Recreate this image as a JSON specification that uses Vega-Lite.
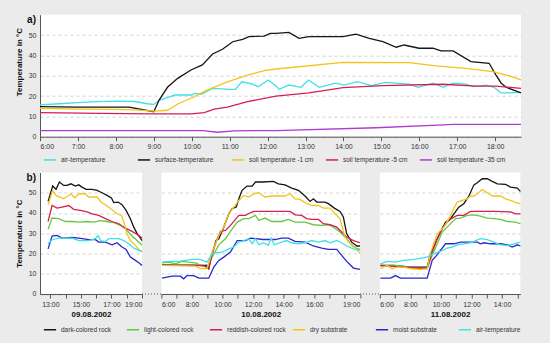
{
"$schema": "https://vega.github.io/schema/vega-lite/v6.json",
"background": "#ebebeb",
"padding": {"left": 15, "top": 14.7, "right": 30, "bottom": 12},
"config": {
  "font": "Liberation Sans, Arial, sans-serif",
  "view": {"fill": "white", "stroke": null},
  "axis": {"labelFontSize": 7, "labelColor": "#333", "domainColor": "#555", "tickColor": "#555", "titleFontSize": 8, "titleFontWeight": "bold", "titleColor": "#111", "gridColor": "#c8c8c8", "gridDash": [3, 3], "gridWidth": 0.8, "labelOverlap": false},
  "legend": {"labelFontSize": 6.5, "labelColor": "#333", "symbolType": "stroke", "symbolStrokeWidth": 1.5, "symbolSize": 150, "direction": "horizontal", "title": null, "labelOffset": 4}
},
"datasets": {
  "a": [
    {"t":6.0,"v":15.6,"s":"air-temperature"},{"t":6.5,"v":16.2,"s":"air-temperature"},{"t":7.0,"v":16.8,"s":"air-temperature"},{"t":7.5,"v":17.2,"s":"air-temperature"},{"t":8.0,"v":17.5,"s":"air-temperature"},{"t":8.5,"v":17.3,"s":"air-temperature"},{"t":8.83,"v":16.2,"s":"air-temperature"},{"t":9.0,"v":15.9,"s":"air-temperature"},{"t":9.15,"v":18.0,"s":"air-temperature"},{"t":9.4,"v":19.5,"s":"air-temperature"},{"t":9.55,"v":20.5,"s":"air-temperature"},{"t":9.8,"v":20.6,"s":"air-temperature"},{"t":10.0,"v":20.5,"s":"air-temperature"},{"t":10.08,"v":21.3,"s":"air-temperature"},{"t":10.25,"v":20.8,"s":"air-temperature"},{"t":10.55,"v":23.8,"s":"air-temperature"},{"t":11.0,"v":23.3,"s":"air-temperature"},{"t":11.15,"v":23.3,"s":"air-temperature"},{"t":11.32,"v":27.0,"s":"air-temperature"},{"t":11.58,"v":26.0,"s":"air-temperature"},{"t":11.75,"v":24.6,"s":"air-temperature"},{"t":12.02,"v":27.9,"s":"air-temperature"},{"t":12.22,"v":24.9,"s":"air-temperature"},{"t":12.3,"v":23.3,"s":"air-temperature"},{"t":12.56,"v":25.4,"s":"air-temperature"},{"t":12.88,"v":24.3,"s":"air-temperature"},{"t":13.08,"v":27.9,"s":"air-temperature"},{"t":13.36,"v":24.3,"s":"air-temperature"},{"t":13.8,"v":26.3,"s":"air-temperature"},{"t":14.01,"v":25.4,"s":"air-temperature"},{"t":14.38,"v":27.1,"s":"air-temperature"},{"t":14.73,"v":25.1,"s":"air-temperature"},{"t":15.12,"v":26.7,"s":"air-temperature"},{"t":15.73,"v":25.9,"s":"air-temperature"},{"t":15.97,"v":24.3,"s":"air-temperature"},{"t":16.36,"v":26.3,"s":"air-temperature"},{"t":16.63,"v":24.3,"s":"air-temperature"},{"t":16.89,"v":26.3,"s":"air-temperature"},{"t":17.23,"v":25.9,"s":"air-temperature"},{"t":17.42,"v":24.6,"s":"air-temperature"},{"t":17.76,"v":25.4,"s":"air-temperature"},{"t":17.97,"v":24.3,"s":"air-temperature"},{"t":18.15,"v":21.6,"s":"air-temperature"},{"t":18.36,"v":21.6,"s":"air-temperature"},{"t":18.68,"v":21.8,"s":"air-temperature"},
    {"t":6.0,"v":14.8,"s":"surface-temperature"},{"t":7.0,"v":14.5,"s":"surface-temperature"},{"t":8.0,"v":14.5,"s":"surface-temperature"},{"t":8.35,"v":14.5,"s":"surface-temperature"},{"t":9.0,"v":12.3,"s":"surface-temperature"},{"t":9.14,"v":18.0,"s":"surface-temperature"},{"t":9.36,"v":24.3,"s":"surface-temperature"},{"t":9.63,"v":28.7,"s":"surface-temperature"},{"t":9.98,"v":32.8,"s":"surface-temperature"},{"t":10.28,"v":35.3,"s":"surface-temperature"},{"t":10.55,"v":40.7,"s":"surface-temperature"},{"t":10.81,"v":43.0,"s":"surface-temperature"},{"t":11.08,"v":46.7,"s":"surface-temperature"},{"t":11.34,"v":47.9,"s":"surface-temperature"},{"t":11.51,"v":49.2,"s":"surface-temperature"},{"t":11.91,"v":49.5,"s":"surface-temperature"},{"t":12.07,"v":50.8,"s":"surface-temperature"},{"t":12.22,"v":50.8,"s":"surface-temperature"},{"t":12.56,"v":51.3,"s":"surface-temperature"},{"t":12.83,"v":48.4,"s":"surface-temperature"},{"t":13.09,"v":49.2,"s":"surface-temperature"},{"t":13.99,"v":49.2,"s":"surface-temperature"},{"t":14.33,"v":50.4,"s":"surface-temperature"},{"t":14.68,"v":48.4,"s":"surface-temperature"},{"t":15.04,"v":46.7,"s":"surface-temperature"},{"t":15.39,"v":44.0,"s":"surface-temperature"},{"t":15.6,"v":45.1,"s":"surface-temperature"},{"t":15.99,"v":43.5,"s":"surface-temperature"},{"t":16.36,"v":43.5,"s":"surface-temperature"},{"t":16.57,"v":42.2,"s":"surface-temperature"},{"t":16.89,"v":42.2,"s":"surface-temperature"},{"t":17.36,"v":36.9,"s":"surface-temperature"},{"t":17.84,"v":36.1,"s":"surface-temperature"},{"t":18.02,"v":30.3,"s":"surface-temperature"},{"t":18.16,"v":26.3,"s":"surface-temperature"},{"t":18.29,"v":24.3,"s":"surface-temperature"},{"t":18.68,"v":21.6,"s":"surface-temperature"},
    {"t":6.0,"v":14.0,"s":"soil temperature -1 cm"},{"t":7.0,"v":13.6,"s":"soil temperature -1 cm"},{"t":8.0,"v":13.4,"s":"soil temperature -1 cm"},{"t":8.5,"v":13.2,"s":"soil temperature -1 cm"},{"t":9.0,"v":12.6,"s":"soil temperature -1 cm"},{"t":9.36,"v":13.0,"s":"soil temperature -1 cm"},{"t":9.63,"v":16.1,"s":"soil temperature -1 cm"},{"t":9.98,"v":18.9,"s":"soil temperature -1 cm"},{"t":10.42,"v":23.0,"s":"soil temperature -1 cm"},{"t":10.94,"v":27.0,"s":"soil temperature -1 cm"},{"t":11.47,"v":30.3,"s":"soil temperature -1 cm"},{"t":11.91,"v":32.5,"s":"soil temperature -1 cm"},{"t":12.22,"v":33.3,"s":"soil temperature -1 cm"},{"t":12.56,"v":33.9,"s":"soil temperature -1 cm"},{"t":13.99,"v":36.6,"s":"soil temperature -1 cm"},{"t":15.73,"v":36.4,"s":"soil temperature -1 cm"},{"t":16.44,"v":34.8,"s":"soil temperature -1 cm"},{"t":17.23,"v":33.6,"s":"soil temperature -1 cm"},{"t":17.94,"v":32.0,"s":"soil temperature -1 cm"},{"t":18.37,"v":29.9,"s":"soil temperature -1 cm"},{"t":18.68,"v":27.9,"s":"soil temperature -1 cm"},
    {"t":6.0,"v":11.8,"s":"soil temperature -5 cm"},{"t":7.6,"v":11.5,"s":"soil temperature -5 cm"},{"t":9.0,"v":11.2,"s":"soil temperature -5 cm"},{"t":9.98,"v":11.2,"s":"soil temperature -5 cm"},{"t":10.33,"v":11.8,"s":"soil temperature -5 cm"},{"t":10.59,"v":13.6,"s":"soil temperature -5 cm"},{"t":10.94,"v":14.5,"s":"soil temperature -5 cm"},{"t":11.47,"v":17.2,"s":"soil temperature -5 cm"},{"t":12.22,"v":20.0,"s":"soil temperature -5 cm"},{"t":13.09,"v":21.6,"s":"soil temperature -5 cm"},{"t":13.99,"v":24.1,"s":"soil temperature -5 cm"},{"t":15.04,"v":25.1,"s":"soil temperature -5 cm"},{"t":16.63,"v":25.8,"s":"soil temperature -5 cm"},{"t":17.5,"v":24.9,"s":"soil temperature -5 cm"},{"t":18.02,"v":24.9,"s":"soil temperature -5 cm"},{"t":18.68,"v":23.8,"s":"soil temperature -5 cm"},
    {"t":6.0,"v":3.0,"s":"soil temperature -35 cm"},{"t":10.3,"v":3.0,"s":"soil temperature -35 cm"},{"t":10.68,"v":2.2,"s":"soil temperature -35 cm"},{"t":11.12,"v":2.9,"s":"soil temperature -35 cm"},{"t":12.22,"v":3.0,"s":"soil temperature -35 cm"},{"t":14.86,"v":4.4,"s":"soil temperature -35 cm"},{"t":16.63,"v":5.8,"s":"soil temperature -35 cm"},{"t":16.89,"v":6.1,"s":"soil temperature -35 cm"},{"t":18.68,"v":6.1,"s":"soil temperature -35 cm"}
  ],
  "b1": [
    {"t":12.85,"v":45.7,"s":"dark-colored rock"},{"t":13.15,"v":53.3,"s":"dark-colored rock"},{"t":13.37,"v":51.7,"s":"dark-colored rock"},{"t":13.59,"v":55.3,"s":"dark-colored rock"},{"t":13.87,"v":53.6,"s":"dark-colored rock"},{"t":14.09,"v":53.6,"s":"dark-colored rock"},{"t":14.35,"v":54.4,"s":"dark-colored rock"},{"t":14.64,"v":53.3,"s":"dark-colored rock"},{"t":14.86,"v":53.9,"s":"dark-colored rock"},{"t":15.07,"v":52.8,"s":"dark-colored rock"},{"t":15.34,"v":51.7,"s":"dark-colored rock"},{"t":15.73,"v":51.7,"s":"dark-colored rock"},{"t":16.06,"v":51.2,"s":"dark-colored rock"},{"t":16.38,"v":50.0,"s":"dark-colored rock"},{"t":16.71,"v":48.7,"s":"dark-colored rock"},{"t":17.0,"v":47.4,"s":"dark-colored rock"},{"t":17.15,"v":45.1,"s":"dark-colored rock"},{"t":17.43,"v":45.4,"s":"dark-colored rock"},{"t":17.69,"v":44.1,"s":"dark-colored rock"},{"t":17.96,"v":41.3,"s":"dark-colored rock"},{"t":18.24,"v":37.2,"s":"dark-colored rock"},{"t":18.46,"v":33.0,"s":"dark-colored rock"},{"t":18.68,"v":29.8,"s":"dark-colored rock"},{"t":18.9,"v":27.6,"s":"dark-colored rock"},{"t":19.0,"v":26.4,"s":"dark-colored rock"},
    {"t":12.85,"v":31.9,"s":"light-colored rock"},{"t":13.11,"v":37.5,"s":"light-colored rock"},{"t":13.55,"v":37.2,"s":"light-colored rock"},{"t":13.98,"v":35.8,"s":"light-colored rock"},{"t":14.42,"v":35.8,"s":"light-colored rock"},{"t":14.97,"v":35.5,"s":"light-colored rock"},{"t":15.4,"v":35.8,"s":"light-colored rock"},{"t":15.84,"v":35.5,"s":"light-colored rock"},{"t":16.28,"v":36.2,"s":"light-colored rock"},{"t":16.71,"v":35.8,"s":"light-colored rock"},{"t":17.15,"v":35.2,"s":"light-colored rock"},{"t":17.59,"v":33.9,"s":"light-colored rock"},{"t":17.96,"v":31.9,"s":"light-colored rock"},{"t":18.31,"v":28.9,"s":"light-colored rock"},{"t":18.68,"v":26.4,"s":"light-colored rock"},{"t":19.0,"v":24.0,"s":"light-colored rock"},
    {"t":12.85,"v":35.8,"s":"reddish-colored rock"},{"t":13.11,"v":43.7,"s":"reddish-colored rock"},{"t":13.44,"v":42.4,"s":"reddish-colored rock"},{"t":13.76,"v":42.9,"s":"reddish-colored rock"},{"t":14.2,"v":43.7,"s":"reddish-colored rock"},{"t":14.53,"v":41.8,"s":"reddish-colored rock"},{"t":14.97,"v":41.3,"s":"reddish-colored rock"},{"t":15.4,"v":40.5,"s":"reddish-colored rock"},{"t":15.73,"v":39.6,"s":"reddish-colored rock"},{"t":16.17,"v":38.8,"s":"reddish-colored rock"},{"t":16.6,"v":37.2,"s":"reddish-colored rock"},{"t":17.04,"v":35.8,"s":"reddish-colored rock"},{"t":17.48,"v":34.7,"s":"reddish-colored rock"},{"t":17.91,"v":32.5,"s":"reddish-colored rock"},{"t":18.35,"v":30.9,"s":"reddish-colored rock"},{"t":18.79,"v":28.9,"s":"reddish-colored rock"},{"t":19.0,"v":27.6,"s":"reddish-colored rock"},
    {"t":12.85,"v":44.1,"s":"dry substrate"},{"t":13.15,"v":51.2,"s":"dry substrate"},{"t":13.37,"v":48.7,"s":"dry substrate"},{"t":13.87,"v":47.0,"s":"dry substrate"},{"t":14.35,"v":49.5,"s":"dry substrate"},{"t":14.59,"v":47.4,"s":"dry substrate"},{"t":14.86,"v":49.5,"s":"dry substrate"},{"t":15.29,"v":49.5,"s":"dry substrate"},{"t":15.51,"v":47.9,"s":"dry substrate"},{"t":16.06,"v":47.9,"s":"dry substrate"},{"t":16.28,"v":45.7,"s":"dry substrate"},{"t":16.6,"v":44.1,"s":"dry substrate"},{"t":17.0,"v":41.8,"s":"dry substrate"},{"t":17.37,"v":39.6,"s":"dry substrate"},{"t":17.65,"v":38.8,"s":"dry substrate"},{"t":17.8,"v":35.8,"s":"dry substrate"},{"t":18.02,"v":29.7,"s":"dry substrate"},{"t":18.24,"v":26.4,"s":"dry substrate"},{"t":18.57,"v":24.0,"s":"dry substrate"},{"t":18.79,"v":22.0,"s":"dry substrate"},{"t":19.0,"v":21.0,"s":"dry substrate"},
    {"t":12.85,"v":22.3,"s":"moist substrate"},{"t":13.11,"v":28.6,"s":"moist substrate"},{"t":13.44,"v":28.9,"s":"moist substrate"},{"t":13.76,"v":27.6,"s":"moist substrate"},{"t":14.42,"v":27.9,"s":"moist substrate"},{"t":14.86,"v":27.6,"s":"moist substrate"},{"t":15.51,"v":26.8,"s":"moist substrate"},{"t":15.95,"v":26.8,"s":"moist substrate"},{"t":16.17,"v":25.6,"s":"moist substrate"},{"t":16.6,"v":25.6,"s":"moist substrate"},{"t":17.04,"v":24.3,"s":"moist substrate"},{"t":17.37,"v":25.3,"s":"moist substrate"},{"t":17.69,"v":23.2,"s":"moist substrate"},{"t":17.96,"v":22.0,"s":"moist substrate"},{"t":18.24,"v":18.2,"s":"moist substrate"},{"t":18.57,"v":16.6,"s":"moist substrate"},{"t":18.79,"v":15.4,"s":"moist substrate"},{"t":19.0,"v":14.1,"s":"moist substrate"},
    {"t":12.85,"v":24.8,"s":"air-temperature"},{"t":13.11,"v":26.8,"s":"air-temperature"},{"t":13.55,"v":27.6,"s":"air-temperature"},{"t":14.42,"v":27.6,"s":"air-temperature"},{"t":14.86,"v":26.4,"s":"air-temperature"},{"t":15.51,"v":26.4,"s":"air-temperature"},{"t":15.95,"v":27.3,"s":"air-temperature"},{"t":16.12,"v":28.9,"s":"air-temperature"},{"t":16.3,"v":26.4,"s":"air-temperature"},{"t":16.6,"v":25.9,"s":"air-temperature"},{"t":16.82,"v":27.3,"s":"air-temperature"},{"t":17.48,"v":27.3,"s":"air-temperature"},{"t":17.8,"v":26.4,"s":"air-temperature"},{"t":18.13,"v":24.8,"s":"air-temperature"},{"t":18.46,"v":22.7,"s":"air-temperature"},{"t":18.79,"v":21.5,"s":"air-temperature"},{"t":19.0,"v":21.0,"s":"air-temperature"}
  ],
  "b2": [
    {"t":6.04,"v":14.4,"s":"dark-colored rock"},{"t":7.0,"v":14.3,"s":"dark-colored rock"},{"t":8.0,"v":14.3,"s":"dark-colored rock"},{"t":8.99,"v":14.1,"s":"dark-colored rock"},{"t":9.1,"v":12.5,"s":"dark-colored rock"},{"t":9.32,"v":19.9,"s":"dark-colored rock"},{"t":9.58,"v":26.4,"s":"dark-colored rock"},{"t":9.76,"v":27.3,"s":"dark-colored rock"},{"t":10.08,"v":33.0,"s":"dark-colored rock"},{"t":10.41,"v":39.6,"s":"dark-colored rock"},{"t":10.63,"v":42.1,"s":"dark-colored rock"},{"t":10.9,"v":42.9,"s":"dark-colored rock"},{"t":11.07,"v":47.0,"s":"dark-colored rock"},{"t":11.28,"v":51.2,"s":"dark-colored rock"},{"t":11.61,"v":53.3,"s":"dark-colored rock"},{"t":11.94,"v":53.3,"s":"dark-colored rock"},{"t":12.16,"v":55.3,"s":"dark-colored rock"},{"t":12.64,"v":55.3,"s":"dark-colored rock"},{"t":13.33,"v":55.6,"s":"dark-colored rock"},{"t":13.66,"v":54.4,"s":"dark-colored rock"},{"t":14.09,"v":53.9,"s":"dark-colored rock"},{"t":14.53,"v":52.3,"s":"dark-colored rock"},{"t":14.97,"v":51.2,"s":"dark-colored rock"},{"t":15.4,"v":48.4,"s":"dark-colored rock"},{"t":15.73,"v":45.7,"s":"dark-colored rock"},{"t":15.95,"v":47.0,"s":"dark-colored rock"},{"t":16.17,"v":45.4,"s":"dark-colored rock"},{"t":16.71,"v":45.4,"s":"dark-colored rock"},{"t":16.93,"v":44.6,"s":"dark-colored rock"},{"t":17.32,"v":42.4,"s":"dark-colored rock"},{"t":17.69,"v":40.8,"s":"dark-colored rock"},{"t":17.91,"v":38.0,"s":"dark-colored rock"},{"t":18.13,"v":29.7,"s":"dark-colored rock"},{"t":18.46,"v":25.6,"s":"dark-colored rock"},{"t":18.79,"v":23.7,"s":"dark-colored rock"},{"t":19.0,"v":23.7,"s":"dark-colored rock"},
    {"t":6.04,"v":15.4,"s":"light-colored rock"},{"t":6.48,"v":15.7,"s":"light-colored rock"},{"t":6.92,"v":14.9,"s":"light-colored rock"},{"t":7.35,"v":16.1,"s":"light-colored rock"},{"t":7.79,"v":15.7,"s":"light-colored rock"},{"t":8.23,"v":15.4,"s":"light-colored rock"},{"t":8.66,"v":13.8,"s":"light-colored rock"},{"t":8.99,"v":13.3,"s":"light-colored rock"},{"t":9.32,"v":18.2,"s":"light-colored rock"},{"t":9.76,"v":24.3,"s":"light-colored rock"},{"t":10.19,"v":27.3,"s":"light-colored rock"},{"t":10.52,"v":30.9,"s":"light-colored rock"},{"t":10.96,"v":35.5,"s":"light-colored rock"},{"t":11.39,"v":37.2,"s":"light-colored rock"},{"t":11.72,"v":37.2,"s":"light-colored rock"},{"t":12.16,"v":38.8,"s":"light-colored rock"},{"t":12.38,"v":36.3,"s":"light-colored rock"},{"t":12.78,"v":37.5,"s":"light-colored rock"},{"t":13.22,"v":35.8,"s":"light-colored rock"},{"t":13.87,"v":35.8,"s":"light-colored rock"},{"t":14.31,"v":36.8,"s":"light-colored rock"},{"t":14.75,"v":35.5,"s":"light-colored rock"},{"t":15.4,"v":35.5,"s":"light-colored rock"},{"t":15.95,"v":34.2,"s":"light-colored rock"},{"t":16.5,"v":33.9,"s":"light-colored rock"},{"t":16.93,"v":34.2,"s":"light-colored rock"},{"t":17.26,"v":33.0,"s":"light-colored rock"},{"t":17.69,"v":30.6,"s":"light-colored rock"},{"t":18.13,"v":27.3,"s":"light-colored rock"},{"t":18.57,"v":23.2,"s":"light-colored rock"},{"t":19.0,"v":22.0,"s":"light-colored rock"},
    {"t":6.04,"v":14.1,"s":"reddish-colored rock"},{"t":8.8,"v":14.0,"s":"reddish-colored rock"},{"t":9.1,"v":12.5,"s":"reddish-colored rock"},{"t":9.32,"v":19.9,"s":"reddish-colored rock"},{"t":9.65,"v":27.3,"s":"reddish-colored rock"},{"t":9.87,"v":30.9,"s":"reddish-colored rock"},{"t":10.19,"v":31.4,"s":"reddish-colored rock"},{"t":10.52,"v":33.9,"s":"reddish-colored rock"},{"t":11.07,"v":38.8,"s":"reddish-colored rock"},{"t":11.5,"v":38.8,"s":"reddish-colored rock"},{"t":11.83,"v":40.1,"s":"reddish-colored rock"},{"t":12.05,"v":40.8,"s":"reddish-colored rock"},{"t":14.42,"v":40.8,"s":"reddish-colored rock"},{"t":14.75,"v":39.1,"s":"reddish-colored rock"},{"t":15.18,"v":38.8,"s":"reddish-colored rock"},{"t":15.51,"v":37.2,"s":"reddish-colored rock"},{"t":15.84,"v":36.8,"s":"reddish-colored rock"},{"t":16.28,"v":36.8,"s":"reddish-colored rock"},{"t":16.6,"v":34.7,"s":"reddish-colored rock"},{"t":17.04,"v":34.2,"s":"reddish-colored rock"},{"t":17.48,"v":33.0,"s":"reddish-colored rock"},{"t":17.8,"v":30.6,"s":"reddish-colored rock"},{"t":18.13,"v":28.1,"s":"reddish-colored rock"},{"t":18.57,"v":26.4,"s":"reddish-colored rock"},{"t":19.0,"v":25.3,"s":"reddish-colored rock"},
    {"t":6.04,"v":14.1,"s":"dry substrate"},{"t":7.0,"v":14.0,"s":"dry substrate"},{"t":8.23,"v":13.8,"s":"dry substrate"},{"t":8.55,"v":12.5,"s":"dry substrate"},{"t":8.99,"v":12.5,"s":"dry substrate"},{"t":9.32,"v":20.7,"s":"dry substrate"},{"t":9.76,"v":28.9,"s":"dry substrate"},{"t":10.08,"v":33.0,"s":"dry substrate"},{"t":10.41,"v":39.6,"s":"dry substrate"},{"t":10.74,"v":42.9,"s":"dry substrate"},{"t":11.07,"v":46.2,"s":"dry substrate"},{"t":11.39,"v":48.7,"s":"dry substrate"},{"t":11.72,"v":47.9,"s":"dry substrate"},{"t":12.05,"v":49.5,"s":"dry substrate"},{"t":12.34,"v":50.0,"s":"dry substrate"},{"t":12.78,"v":47.9,"s":"dry substrate"},{"t":13.22,"v":48.4,"s":"dry substrate"},{"t":14.09,"v":48.4,"s":"dry substrate"},{"t":14.42,"v":49.5,"s":"dry substrate"},{"t":14.75,"v":47.0,"s":"dry substrate"},{"t":15.07,"v":46.7,"s":"dry substrate"},{"t":15.4,"v":45.1,"s":"dry substrate"},{"t":15.84,"v":43.7,"s":"dry substrate"},{"t":16.28,"v":43.7,"s":"dry substrate"},{"t":16.6,"v":42.4,"s":"dry substrate"},{"t":17.04,"v":42.4,"s":"dry substrate"},{"t":17.37,"v":39.6,"s":"dry substrate"},{"t":17.69,"v":37.2,"s":"dry substrate"},{"t":17.98,"v":28.9,"s":"dry substrate"},{"t":18.24,"v":25.6,"s":"dry substrate"},{"t":18.68,"v":23.1,"s":"dry substrate"},{"t":19.0,"v":19.9,"s":"dry substrate"},
    {"t":6.04,"v":7.8,"s":"moist substrate"},{"t":6.7,"v":8.8,"s":"moist substrate"},{"t":7.24,"v":8.8,"s":"moist substrate"},{"t":7.46,"v":7.5,"s":"moist substrate"},{"t":7.68,"v":9.1,"s":"moist substrate"},{"t":8.12,"v":9.1,"s":"moist substrate"},{"t":8.45,"v":7.8,"s":"moist substrate"},{"t":9.1,"v":7.8,"s":"moist substrate"},{"t":9.43,"v":13.3,"s":"moist substrate"},{"t":9.76,"v":16.6,"s":"moist substrate"},{"t":10.08,"v":18.2,"s":"moist substrate"},{"t":10.52,"v":20.7,"s":"moist substrate"},{"t":10.96,"v":26.4,"s":"moist substrate"},{"t":11.5,"v":26.4,"s":"moist substrate"},{"t":11.83,"v":27.6,"s":"moist substrate"},{"t":12.16,"v":27.3,"s":"moist substrate"},{"t":12.64,"v":26.9,"s":"moist substrate"},{"t":13.44,"v":26.9,"s":"moist substrate"},{"t":13.87,"v":27.6,"s":"moist substrate"},{"t":14.31,"v":27.6,"s":"moist substrate"},{"t":14.75,"v":26.0,"s":"moist substrate"},{"t":15.4,"v":25.6,"s":"moist substrate"},{"t":15.95,"v":23.7,"s":"moist substrate"},{"t":16.5,"v":22.7,"s":"moist substrate"},{"t":16.93,"v":22.0,"s":"moist substrate"},{"t":17.48,"v":22.0,"s":"moist substrate"},{"t":17.8,"v":19.1,"s":"moist substrate"},{"t":18.13,"v":16.1,"s":"moist substrate"},{"t":18.57,"v":12.8,"s":"moist substrate"},{"t":19.0,"v":12.1,"s":"moist substrate"},
    {"t":6.04,"v":15.7,"s":"air-temperature"},{"t":6.48,"v":16.1,"s":"air-temperature"},{"t":7.14,"v":16.1,"s":"air-temperature"},{"t":7.57,"v":16.6,"s":"air-temperature"},{"t":8.0,"v":17.1,"s":"air-temperature"},{"t":8.55,"v":17.1,"s":"air-temperature"},{"t":8.99,"v":15.7,"s":"air-temperature"},{"t":9.32,"v":19.9,"s":"air-temperature"},{"t":9.65,"v":20.4,"s":"air-temperature"},{"t":9.87,"v":20.4,"s":"air-temperature"},{"t":10.08,"v":21.0,"s":"air-temperature"},{"t":10.41,"v":22.3,"s":"air-temperature"},{"t":10.74,"v":23.2,"s":"air-temperature"},{"t":11.07,"v":25.6,"s":"air-temperature"},{"t":11.39,"v":26.4,"s":"air-temperature"},{"t":11.72,"v":27.3,"s":"air-temperature"},{"t":11.94,"v":24.8,"s":"air-temperature"},{"t":12.16,"v":27.3,"s":"air-temperature"},{"t":12.38,"v":24.3,"s":"air-temperature"},{"t":12.67,"v":25.3,"s":"air-temperature"},{"t":13.0,"v":24.0,"s":"air-temperature"},{"t":13.18,"v":27.6,"s":"air-temperature"},{"t":13.39,"v":24.3,"s":"air-temperature"},{"t":13.87,"v":25.6,"s":"air-temperature"},{"t":14.2,"v":26.4,"s":"air-temperature"},{"t":14.53,"v":25.3,"s":"air-temperature"},{"t":14.97,"v":24.8,"s":"air-temperature"},{"t":15.4,"v":25.3,"s":"air-temperature"},{"t":15.84,"v":26.4,"s":"air-temperature"},{"t":16.28,"v":25.6,"s":"air-temperature"},{"t":16.71,"v":26.4,"s":"air-temperature"},{"t":17.04,"v":25.3,"s":"air-temperature"},{"t":17.48,"v":26.4,"s":"air-temperature"},{"t":17.8,"v":25.3,"s":"air-temperature"},{"t":18.13,"v":23.7,"s":"air-temperature"},{"t":18.57,"v":22.3,"s":"air-temperature"},{"t":19.0,"v":21.5,"s":"air-temperature"}
  ],
  "b3": [
    {"t":6.04,"v":14.1,"s":"dark-colored rock"},{"t":6.92,"v":14.1,"s":"dark-colored rock"},{"t":8.0,"v":13.3,"s":"dark-colored rock"},{"t":9.1,"v":13.3,"s":"dark-colored rock"},{"t":9.32,"v":19.9,"s":"dark-colored rock"},{"t":9.65,"v":25.6,"s":"dark-colored rock"},{"t":9.97,"v":30.6,"s":"dark-colored rock"},{"t":10.3,"v":35.5,"s":"dark-colored rock"},{"t":10.63,"v":37.2,"s":"dark-colored rock"},{"t":10.85,"v":39.6,"s":"dark-colored rock"},{"t":11.17,"v":42.9,"s":"dark-colored rock"},{"t":11.5,"v":44.6,"s":"dark-colored rock"},{"t":11.83,"v":48.4,"s":"dark-colored rock"},{"t":12.16,"v":53.9,"s":"dark-colored rock"},{"t":12.38,"v":54.9,"s":"dark-colored rock"},{"t":12.7,"v":56.9,"s":"dark-colored rock"},{"t":13.03,"v":56.9,"s":"dark-colored rock"},{"t":13.36,"v":55.6,"s":"dark-colored rock"},{"t":13.69,"v":54.4,"s":"dark-colored rock"},{"t":14.23,"v":54.1,"s":"dark-colored rock"},{"t":14.56,"v":52.8,"s":"dark-colored rock"},{"t":15.0,"v":52.3,"s":"dark-colored rock"},{"t":15.2,"v":50.7,"s":"dark-colored rock"},
    {"t":6.04,"v":13.8,"s":"light-colored rock"},{"t":6.92,"v":14.1,"s":"light-colored rock"},{"t":7.57,"v":13.8,"s":"light-colored rock"},{"t":8.23,"v":12.5,"s":"light-colored rock"},{"t":9.1,"v":12.8,"s":"light-colored rock"},{"t":9.43,"v":19.1,"s":"light-colored rock"},{"t":9.76,"v":24.8,"s":"light-colored rock"},{"t":10.08,"v":30.6,"s":"light-colored rock"},{"t":10.52,"v":33.9,"s":"light-colored rock"},{"t":10.96,"v":37.2,"s":"light-colored rock"},{"t":11.28,"v":37.5,"s":"light-colored rock"},{"t":11.72,"v":38.8,"s":"light-colored rock"},{"t":12.16,"v":39.1,"s":"light-colored rock"},{"t":12.59,"v":38.4,"s":"light-colored rock"},{"t":13.03,"v":37.5,"s":"light-colored rock"},{"t":13.47,"v":37.2,"s":"light-colored rock"},{"t":13.9,"v":36.8,"s":"light-colored rock"},{"t":14.34,"v":35.8,"s":"light-colored rock"},{"t":14.89,"v":35.5,"s":"light-colored rock"},{"t":15.2,"v":34.7,"s":"light-colored rock"},
    {"t":6.04,"v":14.1,"s":"reddish-colored rock"},{"t":7.57,"v":13.3,"s":"reddish-colored rock"},{"t":9.1,"v":12.5,"s":"reddish-colored rock"},{"t":9.43,"v":20.7,"s":"reddish-colored rock"},{"t":9.76,"v":27.3,"s":"reddish-colored rock"},{"t":10.08,"v":32.2,"s":"reddish-colored rock"},{"t":10.41,"v":35.5,"s":"reddish-colored rock"},{"t":10.74,"v":37.5,"s":"reddish-colored rock"},{"t":11.07,"v":38.8,"s":"reddish-colored rock"},{"t":11.5,"v":38.8,"s":"reddish-colored rock"},{"t":11.94,"v":40.8,"s":"reddish-colored rock"},{"t":13.47,"v":40.8,"s":"reddish-colored rock"},{"t":14.56,"v":40.5,"s":"reddish-colored rock"},{"t":14.89,"v":39.6,"s":"reddish-colored rock"},{"t":15.2,"v":39.6,"s":"reddish-colored rock"},
    {"t":6.04,"v":12.5,"s":"dry substrate"},{"t":6.48,"v":14.1,"s":"dry substrate"},{"t":6.81,"v":12.5,"s":"dry substrate"},{"t":7.14,"v":13.3,"s":"dry substrate"},{"t":7.57,"v":13.3,"s":"dry substrate"},{"t":8.0,"v":12.5,"s":"dry substrate"},{"t":8.66,"v":12.1,"s":"dry substrate"},{"t":9.1,"v":12.5,"s":"dry substrate"},{"t":9.32,"v":20.4,"s":"dry substrate"},{"t":9.76,"v":29.7,"s":"dry substrate"},{"t":10.19,"v":33.0,"s":"dry substrate"},{"t":10.52,"v":37.2,"s":"dry substrate"},{"t":10.85,"v":42.4,"s":"dry substrate"},{"t":11.07,"v":45.4,"s":"dry substrate"},{"t":11.39,"v":46.2,"s":"dry substrate"},{"t":11.72,"v":47.0,"s":"dry substrate"},{"t":11.94,"v":48.4,"s":"dry substrate"},{"t":12.16,"v":48.4,"s":"dry substrate"},{"t":12.38,"v":49.5,"s":"dry substrate"},{"t":12.7,"v":51.6,"s":"dry substrate"},{"t":13.03,"v":50.0,"s":"dry substrate"},{"t":13.36,"v":48.4,"s":"dry substrate"},{"t":13.9,"v":48.4,"s":"dry substrate"},{"t":14.23,"v":47.0,"s":"dry substrate"},{"t":14.56,"v":46.2,"s":"dry substrate"},{"t":14.89,"v":45.1,"s":"dry substrate"},{"t":15.2,"v":44.6,"s":"dry substrate"},
    {"t":6.04,"v":7.8,"s":"moist substrate"},{"t":6.7,"v":7.8,"s":"moist substrate"},{"t":7.03,"v":9.1,"s":"moist substrate"},{"t":7.35,"v":7.8,"s":"moist substrate"},{"t":9.1,"v":7.8,"s":"moist substrate"},{"t":9.43,"v":16.6,"s":"moist substrate"},{"t":9.76,"v":19.4,"s":"moist substrate"},{"t":10.3,"v":24.8,"s":"moist substrate"},{"t":10.85,"v":24.8,"s":"moist substrate"},{"t":11.28,"v":25.6,"s":"moist substrate"},{"t":12.38,"v":25.6,"s":"moist substrate"},{"t":12.59,"v":24.8,"s":"moist substrate"},{"t":12.81,"v":25.3,"s":"moist substrate"},{"t":13.25,"v":24.8,"s":"moist substrate"},{"t":13.9,"v":24.8,"s":"moist substrate"},{"t":14.34,"v":24.3,"s":"moist substrate"},{"t":14.67,"v":23.2,"s":"moist substrate"},{"t":15.0,"v":24.3,"s":"moist substrate"},{"t":15.2,"v":23.7,"s":"moist substrate"},
    {"t":6.04,"v":14.9,"s":"air-temperature"},{"t":6.48,"v":16.1,"s":"air-temperature"},{"t":7.03,"v":15.7,"s":"air-temperature"},{"t":7.57,"v":16.6,"s":"air-temperature"},{"t":8.23,"v":17.1,"s":"air-temperature"},{"t":9.1,"v":18.2,"s":"air-temperature"},{"t":9.54,"v":19.9,"s":"air-temperature"},{"t":9.97,"v":21.0,"s":"air-temperature"},{"t":10.41,"v":22.7,"s":"air-temperature"},{"t":10.74,"v":23.2,"s":"air-temperature"},{"t":11.07,"v":24.3,"s":"air-temperature"},{"t":11.5,"v":24.8,"s":"air-temperature"},{"t":11.94,"v":25.3,"s":"air-temperature"},{"t":12.27,"v":26.4,"s":"air-temperature"},{"t":12.59,"v":27.3,"s":"air-temperature"},{"t":13.03,"v":26.8,"s":"air-temperature"},{"t":13.47,"v":25.6,"s":"air-temperature"},{"t":13.9,"v":24.3,"s":"air-temperature"},{"t":14.34,"v":24.0,"s":"air-temperature"},{"t":14.78,"v":24.8,"s":"air-temperature"},{"t":15.2,"v":25.6,"s":"air-temperature"}
  ]
},
"resolve": {"scale": {"color": "independent"}, "legend": {"color": "independent"}},
"bounds": "flush",
"spacing": 35.8,
"vconcat": [
  {
    "width": 481, "height": 122,
    "layer": [
      {
        "data": {"name": "a"},
        "mark": {"type": "line", "strokeWidth": 1.3},
        "encoding": {
          "x": {"field": "t", "type": "quantitative", "scale": {"domain": [6, 18.68], "nice": false, "zero": false},
                "axis": {"values": [6,7,8,9,10,11,12,13,14,15,16,17,18], "tickCount": 100, "labelExpr": "datum.value + ':00'", "labelOverlap": false, "title": null, "grid": false, "tickSize": 4, "labelPadding": 2}},
          "y": {"field": "v", "type": "quantitative", "scale": {"domain": [0, 60], "nice": false},
                "axis": {"values": [0,10,20,30,40,50], "tickCount": 100, "format": "d", "labelOverlap": false, "title": "Temperature in °C", "grid": true, "ticks": false, "labelPadding": 4, "titlePadding": 5, "titleY": 47}},
          "color": {"field": "s", "type": "nominal",
                    "scale": {"domain": ["air-temperature","surface-temperature","soil temperature -1 cm","soil temperature -5 cm","soil temperature -35 cm"], "range": ["#3fe0e6","#151515","#f2c51c","#d42050","#b23ad4"]},
                    "legend": {"orient": "none", "legendX": 3, "legendY": 138, "columns": 5, "gridAlign": "all", "columnPadding": 4}}
        }
      },
      {
        "data": {"values": [{}]},
        "mark": {"type": "text", "text": "a)", "fontWeight": "bold", "fontSize": 10, "align": "right", "baseline": "middle", "dx": -4, "color": "#111"},
        "encoding": {"x": {"datum": 6}, "y": {"datum": 57.3}}
      }
    ]
  },
  {
    "bounds": "flush",
    "spacing": 19.4,
    "resolve": {"scale": {"color": "shared"}, "legend": {"color": "shared"}},
    "hconcat": [
      {
        "width": 102, "height": 121.5,
        "layer": [
          {
            "data": {"name": "b1"},
            "mark": {"type": "line", "strokeWidth": 1.3},
            "encoding": {
              "x": {"field": "t", "type": "quantitative", "scale": {"domain": [12.32, 19], "nice": false, "zero": false},
                    "axis": {"values": [13,14,15,16,17,18,19], "tickCount": 100, "labelExpr": "datum.value % 2 == 1 ? datum.value + ':00' : ''", "labelOverlap": false, "title": "09.08.2002", "grid": false, "tickSize": 4, "labelPadding": 3, "titlePadding": 3}},
              "y": {"field": "v", "type": "quantitative", "scale": {"domain": [0, 60], "nice": false},
                    "axis": {"values": [0,10,20,30,40,50], "tickCount": 100, "format": "d", "labelOverlap": false, "title": "Temperature in °C", "grid": true, "ticks": false, "labelPadding": 4, "titlePadding": 5}},
              "color": {"field": "s", "type": "nominal",
                        "scale": {"domain": ["dark-colored rock","light-colored rock","reddish-colored rock","dry substrate","moist substrate","air-temperature"], "range": ["#151515","#66c840","#d42050","#f2c51c","#2828c8","#3fe0e6"]},
                        "legend": {"orient": "none", "legendX": 3, "legendY": 150, "columns": 6, "gridAlign": "all", "columnPadding": 3}}
            }
          },
          {
            "data": {"values": [{}]},
            "mark": {"type": "rule", "strokeDash": [1, 2], "color": "#555", "strokeWidth": 1},
            "encoding": {"x": {"datum": 19}, "x2": {"datum": 20.27}, "y": {"datum": 0}}
          },
          {
            "data": {"values": [{}]},
            "mark": {"type": "text", "text": "b)", "fontWeight": "bold", "fontSize": 10, "align": "right", "baseline": "middle", "dx": -4, "color": "#111"},
            "encoding": {"x": {"datum": 12.32}, "y": {"datum": 57.3}}
          }
        ]
      },
      {
        "width": 198.6, "height": 121.5,
        "layer": [
          {
            "data": {"name": "b2"},
            "mark": {"type": "line", "strokeWidth": 1.3},
            "encoding": {
              "x": {"field": "t", "type": "quantitative", "scale": {"domain": [6, 19], "nice": false, "zero": false},
                    "axis": {"values": [6,7,8,9,10,11,12,13,14,15,16,17,18,19], "tickCount": 100, "labelExpr": "(datum.value % 2 == 0 && datum.value < 18) || datum.value == 19 ? datum.value + ':00' : ''", "labelOverlap": false, "title": "10.08.2002", "grid": false, "tickSize": 4, "labelPadding": 3, "titlePadding": 3}},
              "y": {"field": "v", "type": "quantitative", "scale": {"domain": [0, 60], "nice": false},
                    "axis": {"values": [10,20,30,40,50], "tickCount": 100, "title": null, "grid": true, "ticks": false, "labels": false, "domain": false}},
              "color": {"field": "s", "type": "nominal",
                        "scale": {"domain": ["dark-colored rock","light-colored rock","reddish-colored rock","dry substrate","moist substrate","air-temperature"], "range": ["#151515","#66c840","#d42050","#f2c51c","#2828c8","#3fe0e6"]}}
            }
          },
          {
            "data": {"values": [{}]},
            "mark": {"type": "rule", "strokeDash": [1, 2], "color": "#555", "strokeWidth": 1},
            "encoding": {"x": {"datum": 19}, "x2": {"datum": 20.27}, "y": {"datum": 0}}
          }
        ]
      },
      {
        "width": 140.6, "height": 121.5,
        "data": {"name": "b3"},
        "mark": {"type": "line", "strokeWidth": 1.3},
        "encoding": {
          "x": {"field": "t", "type": "quantitative", "scale": {"domain": [6, 15.2], "nice": false, "zero": false},
                "axis": {"values": [6,7,8,9,10,11,12,13,14,15], "tickCount": 100, "labelExpr": "datum.value % 2 == 0 ? datum.value + ':00' : ''", "labelOverlap": false, "title": "11.08.2002", "grid": false, "tickSize": 4, "labelPadding": 3, "titlePadding": 3}},
          "y": {"field": "v", "type": "quantitative", "scale": {"domain": [0, 60], "nice": false},
                "axis": {"values": [10,20,30,40,50], "tickCount": 100, "title": null, "grid": true, "ticks": false, "labels": false, "domain": false}},
          "color": {"field": "s", "type": "nominal",
                    "scale": {"domain": ["dark-colored rock","light-colored rock","reddish-colored rock","dry substrate","moist substrate","air-temperature"], "range": ["#151515","#66c840","#d42050","#f2c51c","#2828c8","#3fe0e6"]}}
        }
      }
    ]
  }
]
}
